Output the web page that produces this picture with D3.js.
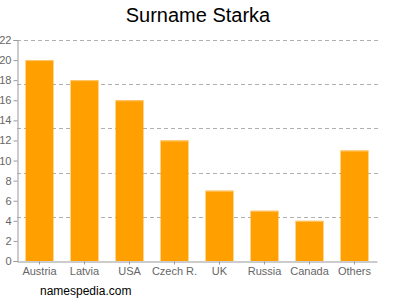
<!DOCTYPE html>
<html><head><meta charset="utf-8">
<script src="https://cdn.jsdelivr.net/npm/d3@7"></script>
<style>body{margin:0;background:#fff}svg{display:block;font-family:Arial,"Liberation Sans",sans-serif}</style>
</head><body>
<svg id="c" width="400" height="300"></svg>
<script>
const categories = ["Austria","Latvia","USA","Czech R.","UK","Russia","Canada","Others"];
const values = [20,18,16,12,7,5,4,11];
const yTicks = [0,2,4,6,8,10,12,14,16,18,20,22];
const gridValues = [4.4,8.8,13.2,17.6,22];
const title = "Surname Starka";
const footer = "namespedia.com";

(function(){
const svg = d3.select("#c");
const mL = 17, mR = 377, mT = 40, mB = 261;
const x = d3.scaleBand().domain(categories).range([mL,mR]).paddingInner(0.38).paddingOuter(0.19);
const y = d3.scaleLinear().domain([0,22]).range([mB,mT]);

svg.append("text").attr("x",198).attr("y",22).attr("text-anchor","middle")
  .attr("font-size",20).attr("fill","#000").text(title);

svg.append("g").selectAll("line").data(gridValues).join("line")
  .attr("x1",mL).attr("x2",mR+1).attr("y1",d=>Math.round(y(d))+0.5).attr("y2",d=>Math.round(y(d))+0.5)
  .attr("stroke","#b0b0b0").attr("stroke-dasharray","4,3").attr("stroke-width",1);

const bars = svg.append("g");
bars.selectAll("rect").data(values).join("rect")
  .attr("x",(d,i)=>x(categories[i])).attr("width",x.bandwidth())
  .attr("y",d=>y(d)).attr("height",d=>mB-y(d)).attr("fill","#FFA000");
bars.selectAll("line").data(values).join("line")
  .attr("x1",(d,i)=>x(categories[i])).attr("x2",(d,i)=>x(categories[i])+x.bandwidth())
  .attr("y1",d=>y(d)+0.5).attr("y2",d=>y(d)+0.5).attr("stroke","#FFC870");

const ya = svg.append("g").attr("transform",`translate(${mL+0.5},0)`)
  .call(d3.axisLeft(y).tickValues(yTicks).tickSize(4).tickPadding(2));
ya.select(".domain").attr("stroke","#999");
ya.selectAll(".tick line").attr("stroke","#999");
ya.selectAll("text").attr("fill","#666").attr("font-size",11).attr("font-family","Arial,'Liberation Sans',sans-serif");

const xa = svg.append("g").attr("transform",`translate(0,${mB+0.5})`)
  .call(d3.axisBottom(x).tickSize(3).tickPadding(3).tickSizeOuter(0));
xa.select(".domain").attr("stroke","#999");
xa.selectAll(".tick line").attr("stroke","#999");
xa.selectAll("text").attr("fill","#666").attr("font-size",11).attr("font-family","Arial,'Liberation Sans',sans-serif");

svg.append("text").attr("x",40).attr("y",295).attr("font-size",12).attr("fill","#000").text(footer);
})();
</script>
</body></html>
